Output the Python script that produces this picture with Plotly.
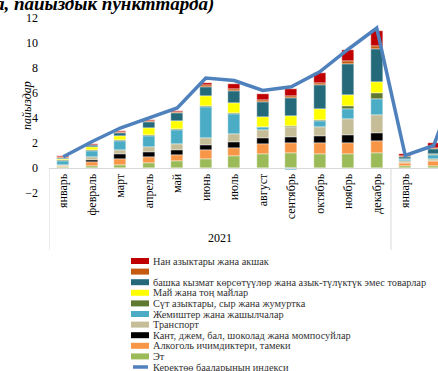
import plotly.graph_objects as go

months = ["январь", "февраль", "март", "апрель", "май", "июнь", "июль", "август",
          "сентябрь", "октябрь", "ноябрь", "декабрь", "январь", "февраль", "март"]
years = ["2021"] * 12 + ["2022"] * 3

et = [0.10, 0.19, 0.27, 0.37, 0.53, 0.72, 0.93, 1.12, 1.17, 1.12, 1.12, 1.17, 0.13, 0.19, None]
alko = [0.05, 0.27, 0.48, 0.50, 0.53, 0.69, 0.67, 0.80, 0.83, 0.88, 0.91, 0.96, 0.25, 0.35, None]
kant = [0.02, 0.19, 0.37, 0.45, 0.40, 0.45, 0.51, 0.45, 0.48, 0.53, 0.64, 0.67, 0.02, 0.03, None]
transport = [0.08, 0.21, 0.29, 0.40, 0.50, 0.53, 0.61, 0.69, 0.77, 0.72, 1.28, 1.47, 0.15, 0.19, None]
jemish = [0.35, 0.53, 0.77, 0.88, 1.09, 2.50, 1.60, 0.21, -0.16, 0.48, 0.80, 1.28, 0.15, 0.32, None]
sut = [0.03, 0.05, 0.05, 0.05, 0.05, 0.08, 0.05, 0.05, 0.08, 0.10, 0.19, 0.43, 0.03, 0.05, None]
mai = [0.10, 0.21, 0.32, 0.53, 0.69, 0.80, 0.83, 0.77, 0.80, 0.88, 0.93, 0.91, 0.03, 0.03, None]
bashka = [0.10, 0.16, 0.29, 0.48, 0.61, 0.75, 0.99, 1.20, 1.47, 1.95, 2.48, 2.64, 0.16, 0.40, None]
blank = [0.02, 0.03, 0.08, 0.08, 0.08, 0.13, 0.13, 0.13, 0.19, 0.16, 0.19, 0.21, 0.03, 0.08, None]
nan = [0.10, 0.08, 0.08, 0.08, 0.08, 0.19, 0.40, 0.53, 0.53, 0.77, 0.93, 1.20, 0.17, 0.37, None]
cpi = [0.9, 2.1, 3.2, 4.0, 4.8, 7.2, 7.0, 6.2, 6.5, 7.7, 9.5, 11.2, 1.0, 1.8, 8.0]

series = [
    ("Эт", et, "#9BBB59"),
    ("Алкоголь ичимдиктери, тамеки", alko, "#F79646"),
    ("Кант, джем, бал, шоколад жана момпосуйлар", kant, "#000000"),
    ("Транспорт", transport, "#C4BD97"),
    ("Жемиштер жана жашылчалар", jemish, "#4BACC6"),
    ("Сүт азыктары, сыр жана жумуртка", sut, "#5F7A30"),
    ("Май жана тоң майлар", mai, "#FFFF00"),
    ("башка кызмат көрсөтүүлөр жана азык-түлүктүк эмес товарлар", bashka, "#256A7B"),
    ("", blank, "#C55A11"),
    ("Нан азыктары жана акшак", nan, "#C00000"),
]
line_name = "Керектөө бааларынын индекси"
line_color = "#4F81BD"
title_text = "(өткөн жылдын декабрына карата, пайыздык пункттарда)"

FONT = "Liberation Serif, Times New Roman, DejaVu Serif, serif"
W, H = 438, 371
L, R, T, B = 49, 0, 18, 178
pw, ph = W - L - R, H - T - B
ymin, ymax = -2, 12
xmin, xmax = -0.5, 13.15


def px_x(x):
    return (x - L) / pw


def px_y(y):
    return (H - B - y) / ph


xs = list(range(len(months)))
fig = go.Figure()
for name, vals, col in series:
    fig.add_trace(go.Bar(x=xs, y=vals, name=name, marker_color=col,
                         marker_line_color="white", marker_line_width=0.4,
                         width=0.42, showlegend=False))
fig.add_trace(go.Scatter(x=xs, y=cpi, mode="lines", name=line_name,
                         line=dict(color=line_color, width=3.5), showlegend=False))

zero_pos = (0 - ymin) / (ymax - ymin)
fig.update_layout(
    width=W, height=H, margin=dict(l=L, r=R, t=T, b=B),
    paper_bgcolor="white", plot_bgcolor="white",
    barmode="relative", bargap=0,
    font=dict(family=FONT, size=12, color="black"),
    xaxis=dict(range=[xmin, xmax], tickmode="array", tickvals=xs, ticktext=months,
               tickangle=-90, anchor="free", position=zero_pos, showline=True,
               linecolor="#D9D9D9", linewidth=1, ticks="", showgrid=False, zeroline=False,
               tickfont=dict(family=FONT, size=12, color="black")),
    yaxis=dict(range=[ymin, ymax], tickmode="array", tickvals=list(range(-2, 13, 2)),
               showgrid=False, zeroline=False, showline=False, ticks="",
               ticklabelstandoff=10,
               tickfont=dict(family=FONT, size=12, color="black")),
)

# multi-level category separators and year labels
sep_bottom = px_y(250)
bounds = [-0.5]
for i in range(1, len(years)):
    if years[i] != years[i - 1]:
        bounds.append(i - 0.5)
for b in bounds:
    fig.add_shape(type="line", xref="x", yref="paper", x0=b, x1=b, y0=zero_pos, y1=sep_bottom,
                  line=dict(color="#D9D9D9", width=1))
for yr in sorted(set(years)):
    idx = [i for i, v in enumerate(years) if v == yr]
    if yr == years[-1] and len(idx) < 12:
        continue  # later year's group label lies beyond the visible area
    fig.add_annotation(x=(idx[0] + idx[-1]) / 2, xref="x", y=px_y(238), yref="paper",
                       text=yr, showarrow=False, font=dict(family=FONT, size=12, color="black"),
                       xanchor="center", yanchor="middle")

# y-axis title
fig.add_annotation(x=px_x(18), xref="paper", y=px_y(106), yref="paper", text="<i>пайыздар</i>",
                   textangle=-90, showarrow=False, font=dict(family=FONT, size=12, color="black"))

# top cut-off title (only its lower part shows in the reference)
fig.add_annotation(x=px_x(216), xref="paper", y=px_y(4), yref="paper",
                   text="<b><i>" + title_text + "</i></b>", showarrow=False,
                   xanchor="right", yanchor="middle",
                   font=dict(family=FONT, size=19, color="black"))

# manual legend
legend_items = [(n, c, "bar") for n, v, c in reversed(series)] + [(line_name, line_color, "line")]
y0 = 261
step = 10.6
for k, (name, col, kind) in enumerate(legend_items):
    yc = y0 + k * step
    if kind == "bar":
        fig.add_shape(type="rect", xref="paper", yref="paper", x0=px_x(131), x1=px_x(149),
                      y0=px_y(yc - 3), y1=px_y(yc + 3), fillcolor=col, line_width=0)
    else:
        fig.add_shape(type="line", xref="paper", yref="paper", x0=px_x(133), x1=px_x(148),
                      y0=px_y(yc), y1=px_y(yc), line=dict(color=col, width=3.5))
    if name:
        fig.add_annotation(x=px_x(151), xref="paper", y=px_y(yc), yref="paper", text=name,
                           showarrow=False, xanchor="left", yanchor="middle",
                           font=dict(family=FONT, size=10.3, color="#333333"))

fig.write_html("out.html")
